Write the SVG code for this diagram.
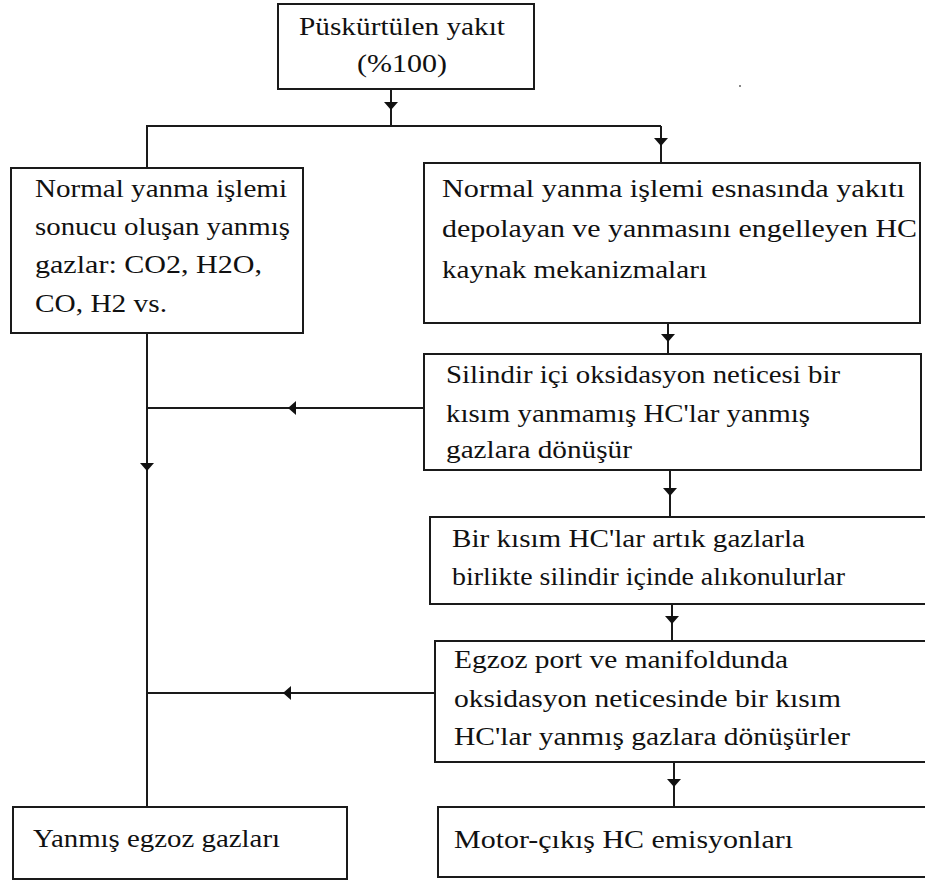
<svg xmlns="http://www.w3.org/2000/svg" width="925" height="881" viewBox="0 0 925 881">
<style>
.box{fill:#fff;stroke:#1a1a1a;stroke-width:2}
.c{fill:none;stroke:#1a1a1a;stroke-width:2;marker-mid:url(#ah)}
.p{fill:none;stroke:#1a1a1a;stroke-width:2}
.t{font-family:'Liberation Serif','Times New Roman',serif;font-size:26px;fill:#111}
</style>
<defs>
<marker id="ah" markerUnits="userSpaceOnUse" markerWidth="10" markerHeight="14" refX="8" refY="7" orient="auto" viewBox="0 0 10 14">
<path d="M0,0 L8,7 L0,14 z" fill="#111"/>
</marker>
</defs>
<rect x="739" y="85" width="2" height="2" fill="#888"/>
<g id="connectors">
<path class="c" d="M391,89 L391,110 L391,126"/>
<path class="p" d="M147,168 L147,126 L661,126"/>
<path class="c" d="M661,126 L661,146 L661,163"/>
<path class="c" d="M668,323 L668,342 L668,354"/>
<path class="c" d="M147,333 L147,471 L147,807"/>
<path class="c" d="M424,408 L288,408 L147,408"/>
<path class="c" d="M670,470 L670,496 L670,517"/>
<path class="c" d="M672,604 L672,624 L672,641"/>
<path class="c" d="M435,693 L283,693 L147,693"/>
<path class="c" d="M674,762 L674,787 L674,807"/>
</g>
<g id="n_top" class="t">
<rect class="box" x="278" y="4" width="256" height="85"/>
<text x="299" y="35" textLength="206" lengthAdjust="spacingAndGlyphs">Püskürtülen yakıt</text>
<text x="357" y="72" textLength="90" lengthAdjust="spacingAndGlyphs">(%100)</text>
</g>
<g id="n_left" class="t">
<rect class="box" x="11" y="168" width="292" height="165"/>
<text x="35" y="197" textLength="252" lengthAdjust="spacingAndGlyphs">Normal yanma işlemi</text>
<text x="35" y="235" textLength="255" lengthAdjust="spacingAndGlyphs">sonucu oluşan yanmış</text>
<text x="35" y="273" textLength="227" lengthAdjust="spacingAndGlyphs">gazlar: CO2, H2O,</text>
<text x="35" y="312" textLength="132" lengthAdjust="spacingAndGlyphs">CO, H2 vs.</text>
</g>
<g id="n_src" class="t">
<rect class="box" x="424" y="163" width="496" height="160"/>
<text x="442" y="197" textLength="463" lengthAdjust="spacingAndGlyphs">Normal yanma işlemi esnasında yakıtı</text>
<text x="442" y="237" textLength="475" lengthAdjust="spacingAndGlyphs">depolayan ve yanmasını engelleyen HC</text>
<text x="442" y="278" textLength="265" lengthAdjust="spacingAndGlyphs">kaynak mekanizmaları</text>
</g>
<g id="n_ox1" class="t">
<rect class="box" x="424" y="354" width="497" height="116"/>
<text x="446" y="383" textLength="394" lengthAdjust="spacingAndGlyphs">Silindir içi oksidasyon neticesi bir</text>
<text x="446" y="422" textLength="364" lengthAdjust="spacingAndGlyphs">kısım yanmamış HC'lar yanmış</text>
<text x="446" y="458" textLength="186" lengthAdjust="spacingAndGlyphs">gazlara dönüşür</text>
</g>
<g id="n_res" class="t">
<rect class="box" x="430" y="517" width="500" height="87"/>
<text x="452" y="547" textLength="353" lengthAdjust="spacingAndGlyphs">Bir kısım HC'lar artık gazlarla</text>
<text x="452" y="585" textLength="393" lengthAdjust="spacingAndGlyphs">birlikte silindir içinde alıkonulurlar</text>
</g>
<g id="n_ox2" class="t">
<rect class="box" x="435" y="641" width="495" height="121"/>
<text x="454" y="668" textLength="334" lengthAdjust="spacingAndGlyphs">Egzoz port ve manifoldunda</text>
<text x="454" y="707" textLength="387" lengthAdjust="spacingAndGlyphs">oksidasyon neticesinde bir kısım</text>
<text x="454" y="745" textLength="396" lengthAdjust="spacingAndGlyphs">HC'lar yanmış gazlara dönüşürler</text>
</g>
<g id="n_exh" class="t">
<rect class="box" x="13" y="807" width="334" height="72"/>
<text x="33" y="847" textLength="247" lengthAdjust="spacingAndGlyphs">Yanmış egzoz gazları</text>
</g>
<g id="n_hc" class="t">
<rect class="box" x="438" y="807" width="492" height="70"/>
<text x="454" y="848" textLength="339" lengthAdjust="spacingAndGlyphs">Motor-çıkış HC emisyonları</text>
</g>
</svg>
